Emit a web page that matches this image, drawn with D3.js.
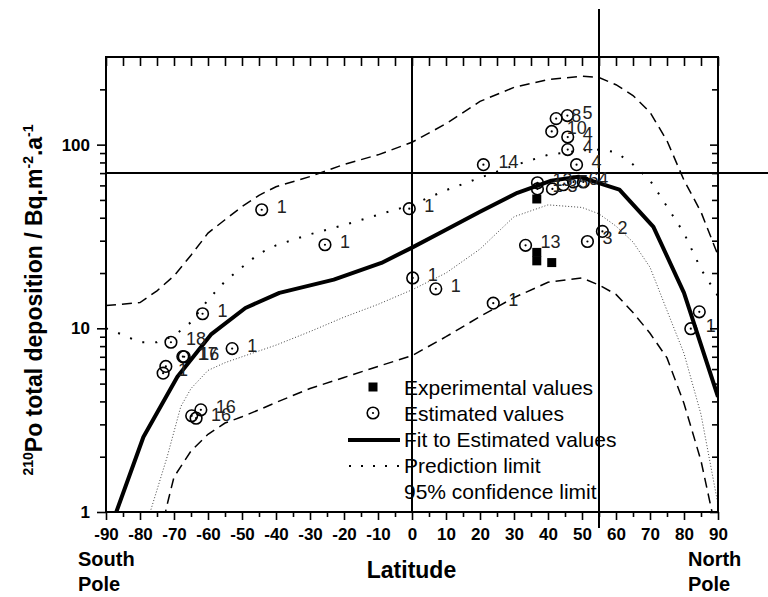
<!DOCTYPE html>
<html><head><meta charset="utf-8">
<script src="https://cdn.jsdelivr.net/npm/d3@7"></script>
<style>body{margin:0;background:#fff}svg{display:block}</style>
</head><body><svg id="c" width="768" height="597"></svg>
<script>
// ---------- data ----------
const xMajorTicks = [-90,-80,-70,-60,-50,-40,-30,-20,-10,0,10,20,30,40,50,60,70,80,90];
const xTickLabels = ['-90','-80','-70','-60','-50','-40','-30','-20','-10','0','10','20','30','40','50','60','70','80','90'];
const xMinorTicks = [-85,-75,-65,-55,-45,-35,-25,-15,-5,5,15,25,35,45,55,65,75,85];
const yMajorTicks = [1,10,100];
const yTickLabels = ['1','10','100'];
const yMinorTicks = [2,3,4,5,6,7,8,9,20,30,40,50,60,70,80,90,200];

const fitLat = [-90,-79,-69,-59,-49,-39,-23,-9,0,10,20,31,41,49,61,71,80,90];
const fitVal = [0.7,2.56,5.45,9.3,12.9,15.6,18.4,22.7,27.5,34.4,43.1,54.7,63.7,66.9,56.9,35.7,15.6,4.24];

const upperConfLat = [-90,-80,-75,-70,-65,-60,-55,-50,-45,-40,-30,-20,-10,0,10,20,30,40,50,55,60,65,70,75,80,85,90];
const upperConfVal = [13.3,13.8,16,19.3,25,33,39,46,53,59,67,78,88,103,130,172,205,226,236,232,212,185,150,105,64,43,25];
const lowerConfLat = [-74,-72,-70,-65,-60,-55,-50,-45,-40,-30,-20,-10,0,10,20,30,40,50,55,60,65,70,75,80,85,88,90];
const lowerConfVal = [0.75,1.1,1.55,2.15,2.65,3.05,3.3,3.6,3.95,4.7,5.4,6.2,7.1,9.0,11.6,14.7,17.8,18.8,17.2,15.3,12.2,9.4,6.9,3.9,1.9,1.05,0.7];
const upperPredLat = [-90,-85,-80,-75,-70,-65,-60,-55,-50,-45,-40,-30,-20,-10,0,10,20,30,40,50,55,60,65,70,75,80,85,90];
const upperPredVal = [10,9.2,8.4,8.4,9.1,10.8,14.3,18,21.5,25.5,28.3,32.5,36.5,41.5,47,56.5,66,77,88,93,94,91,78,64,46,33,21,15];
const lowerPredLat = [-80,-77,-72,-68,-65,-60,-55,-50,-40,-30,-20,-10,0,10,20,30,40,50,55,60,65,70,75,80,85,90];
const lowerPredVal = [0.67,1.0,2.0,3.75,4.7,5.9,6.5,7.0,8.1,9.6,11.5,13.5,16.2,20,27,40.5,47,45.5,42,36,29.5,21.5,12.5,7.3,3.4,1.1];

const estLat = [-44.2,-25.6,-0.8,0.2,7.0,23.9,21.0,-61.6,-70.9,-52.9,-67.4,-67.0,-72.4,-73.2,-62.1,-64.8,-63.5,
                42.4,45.7,41.1,45.8,45.8,48.4,36.9,36.9,41.3,44.5,47.5,50.4,33.4,51.6,56.0,84.5,82.0];
const estVal = [44.2,28.5,44.8,18.8,16.4,13.7,77.8,12.0,8.4,7.76,7.02,7.0,6.2,5.7,3.6,3.34,3.24,
                138.6,144,118,110,94,77.8,62,57.4,57.4,60.5,62.6,62.6,28.3,29.7,33.7,12.3,9.95];
const estLabel = ['1','1','1','1','1','1','14','1','18','1','17','16','','1','16','','16',
                  '8','5','10','4','4','4','13','1','3','5','6','4','13','3','2','','1'];

const expLat = [36.7,36.7,36.7,41.1];
const expVal = [50.6,25.9,23.3,22.8];

const refLineLat = [0,55];
const refLineVal = 70;

const legendLabels = ['Experimental values','Estimated values','Fit to Estimated values','Prediction limit','95% confidence limit'];

// ---------- drawing ----------
const FONT = 'Arial, "Liberation Sans", Helvetica, sans-serif';
const svg = d3.select('#c');
const L = 106, R = 718, T = 57, B = 512;
const x = d3.scaleLinear().domain([-90,90]).range([L,R]);
const y = d3.scaleLog().domain([1,300]).range([B,T]);

svg.append('defs').append('clipPath').attr('id','clip')
  .append('rect').attr('x',L).attr('y',T).attr('width',R-L).attr('height',B-T);

const line = d3.line().x(d=>x(d[0])).y(d=>y(d[1]));
const zip = (a,b)=>a.map((v,i)=>[v,b[i]]);
const plot = svg.append('g').attr('clip-path','url(#clip)');

plot.append('path').attr('d',line(zip(upperConfLat,upperConfVal)))
  .attr('fill','none').attr('stroke','#000').attr('stroke-width',1.5).attr('stroke-dasharray','10,6');
plot.append('path').attr('d',line(zip(lowerConfLat,lowerConfVal)))
  .attr('fill','none').attr('stroke','#000').attr('stroke-width',1.5).attr('stroke-dasharray','10,6');
plot.append('path').attr('d',line(zip(upperPredLat,upperPredVal)))
  .attr('fill','none').attr('stroke','#000').attr('stroke-width',2).attr('stroke-dasharray','2,11');
plot.append('path').attr('d',line(zip(lowerPredLat,lowerPredVal)))
  .attr('fill','none').attr('stroke','#444').attr('stroke-width',1).attr('stroke-dasharray','1,2');
plot.append('path').attr('d',line(zip(fitLat,fitVal)))
  .attr('fill','none').attr('stroke','#000').attr('stroke-width',4).attr('stroke-linejoin','round');

// reference lines
svg.append('line').attr('x1',L).attr('x2',768).attr('y1',y(refLineVal)).attr('y2',y(refLineVal))
  .attr('stroke','#000').attr('stroke-width',2);
svg.append('line').attr('x1',x(refLineLat[0])).attr('x2',x(refLineLat[0])).attr('y1',T).attr('y2',B)
  .attr('stroke','#000').attr('stroke-width',2);
svg.append('line').attr('x1',x(refLineLat[1])).attr('x2',x(refLineLat[1])).attr('y1',9).attr('y2',528)
  .attr('stroke','#000').attr('stroke-width',2);

// experimental squares
svg.append('g').selectAll('rect').data(zip(expLat,expVal)).join('rect')
  .attr('x',d=>x(d[0])-4.5).attr('y',d=>y(d[1])-4.5).attr('width',9).attr('height',9).attr('fill','#000');

// estimated circles
const est = estLat.map((v,i)=>({lat:v,val:estVal[i],lab:estLabel[i]}));
const eg = svg.append('g');
eg.selectAll('circle.o').data(est).join('circle').attr('class','o')
  .attr('cx',d=>x(d.lat)).attr('cy',d=>y(d.val)).attr('r',5.8)
  .attr('fill','none').attr('stroke','#000').attr('stroke-width',1.6);
eg.selectAll('circle.d').data(est).join('circle').attr('class','d')
  .attr('cx',d=>x(d.lat)).attr('cy',d=>y(d.val)).attr('r',1.1).attr('fill','#000');
eg.selectAll('text').data(est).join('text')
  .attr('x',d=>x(d.lat)+15).attr('y',d=>y(d.val)+3)
  .attr('font-family',FONT).attr('font-size',18).attr('fill','#222').text(d=>d.lab);

// axes
function styleAxis(g){
  g.select('.domain').remove();
  g.selectAll('line').attr('stroke','#000').attr('stroke-width',1.6);
  g.selectAll('text').attr('font-family',FONT).attr('font-weight','bold').attr('font-size',17).attr('fill','#000');
}
svg.append('g').attr('transform',`translate(0,${B})`)
  .call(d3.axisBottom(x).tickValues(xMajorTicks).tickSize(8).tickPadding(8).tickFormat((d,i)=>xTickLabels[i])).call(styleAxis);
svg.append('g').attr('transform',`translate(0,${B})`)
  .call(d3.axisBottom(x).tickValues(xMinorTicks).tickSize(5).tickFormat('')).call(styleAxis);
svg.append('g').attr('transform',`translate(0,${T})`)
  .call(d3.axisTop(x).tickValues(xMajorTicks.concat(xMinorTicks)).tickSize(-9).tickFormat('')).call(styleAxis);
svg.append('g').attr('transform',`translate(${L},0)`)
  .call(d3.axisLeft(y).tickValues(yMajorTicks).tickSize(9).tickPadding(7).tickFormat((d,i)=>yTickLabels[i])).call(styleAxis);
svg.append('g').attr('transform',`translate(${L},0)`)
  .call(d3.axisLeft(y).tickValues(yMinorTicks).tickSize(6).tickFormat('')).call(styleAxis);
svg.append('g').attr('transform',`translate(${R},0)`)
  .call(d3.axisRight(y).tickValues(yMajorTicks).tickSize(-8).tickFormat('')).call(styleAxis);
svg.append('g').attr('transform',`translate(${R},0)`)
  .call(d3.axisRight(y).tickValues(yMinorTicks).tickSize(-6).tickFormat('')).call(styleAxis);

svg.append('rect').attr('x',L).attr('y',T).attr('width',R-L).attr('height',B-T)
  .attr('fill','none').attr('stroke','#000').attr('stroke-width',2);

// legend
const lg = svg.append('g');
const lx = 404, ly0 = 395, ldy = 26;
lg.append('rect').attr('x',373-4.5).attr('y',ly0-8-4.5).attr('width',9).attr('height',9).attr('fill','#000');
lg.append('circle').attr('cx',373).attr('cy',ly0+ldy-8).attr('r',5.8).attr('fill','none').attr('stroke','#000').attr('stroke-width',1.6);
lg.append('circle').attr('cx',373).attr('cy',ly0+ldy-8).attr('r',1.1).attr('fill','#000');
lg.append('line').attr('x1',348).attr('x2',400).attr('y1',ly0+2*ldy-7).attr('y2',ly0+2*ldy-7)
  .attr('stroke','#000').attr('stroke-width',4);
lg.append('line').attr('x1',349).attr('x2',402).attr('y1',ly0+3*ldy-7).attr('y2',ly0+3*ldy-7)
  .attr('stroke','#000').attr('stroke-width',2).attr('stroke-dasharray','2,10');
lg.selectAll('text').data(legendLabels).join('text')
  .attr('x',lx).attr('y',(d,i)=>ly0+i*ldy)
  .attr('font-family',FONT).attr('font-size',21).attr('fill','#000').text(d=>d);

// axis titles
svg.append('text').attr('x',411.5).attr('y',578).attr('text-anchor','middle')
  .attr('font-family',FONT).attr('font-weight','bold').attr('font-size',23).text('Latitude');
[['South',78,566],['Pole',78,591],['North',688,566],['Pole',688,591]].forEach(t=>{
  svg.append('text').attr('x',t[1]).attr('y',t[2]).attr('font-family',FONT).attr('font-weight','bold')
    .attr('font-size',20).text(t[0]);
});
const yl = svg.append('text').attr('transform','translate(42,300) rotate(-90)').attr('text-anchor','middle')
  .attr('font-family',FONT).attr('font-weight','bold').attr('font-size',23);
yl.append('tspan').attr('font-size',14).attr('dy',-9).text('210');
yl.append('tspan').attr('dy',9).text('Po total deposition / Bq.m');
yl.append('tspan').attr('font-size',14).attr('dy',-9).text('-2');
yl.append('tspan').attr('dy',9).text('.a');
yl.append('tspan').attr('font-size',14).attr('dy',-9).text('-1');
</script></body></html>
